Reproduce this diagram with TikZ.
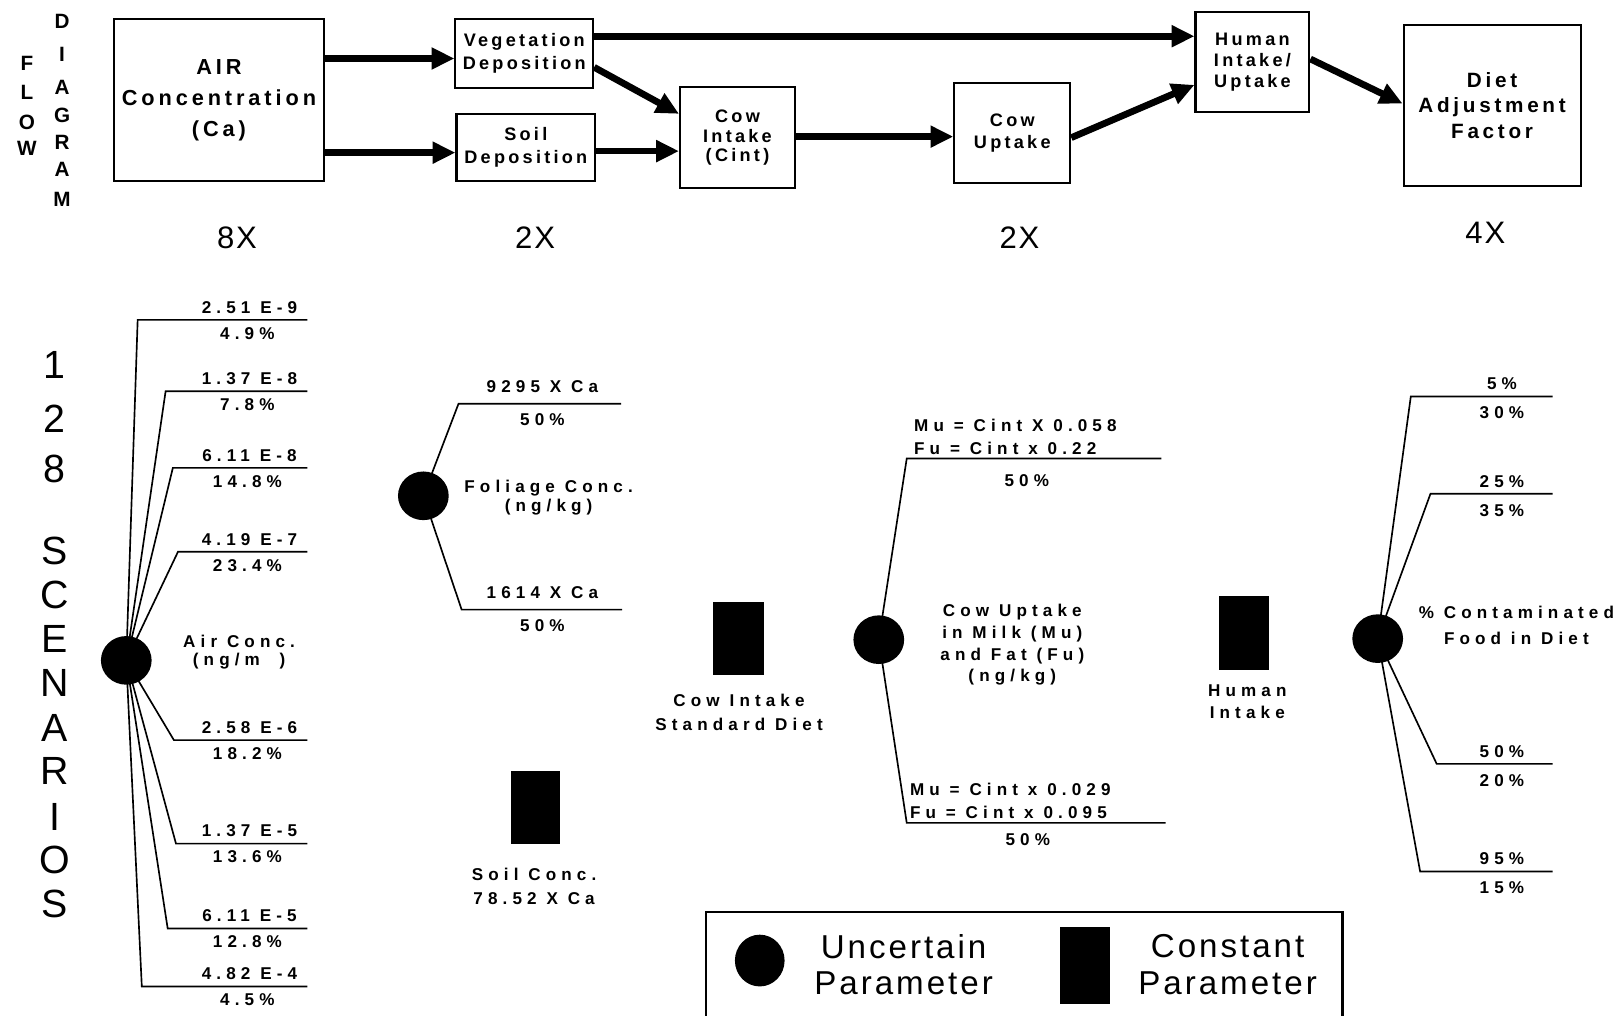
\documentclass[tikz,border=0pt]{standalone}
\usepackage{fontspec}
\setmainfont{Liberation Sans}
\newfontfamily\labfont{Liberation Sans}[LetterSpace=30]
\newfontfamily\boxfont{Liberation Sans}[LetterSpace=18]
\newfontfamily\regfont{Liberation Sans}[LetterSpace=6]
\newfontfamily\legfont{Liberation Sans}[LetterSpace=9]
\usetikzlibrary{arrows.meta,calc,shapes.geometric}
\begin{document}
\begin{tikzpicture}[x=1pt,y=-1pt,
  fbox/.style={draw,line width=2pt,inner sep=0pt,align=center,
    font=\boxfont\bfseries\fontsize{17.5}{21}\selectfont},
  flowarrow/.style={line width=6.5pt,-{Triangle[length=22pt,width=20pt]}},
  lab/.style={font=\labfont\bfseries\fontsize{16.5}{18}\selectfont,inner sep=1pt,align=center},
  unc/.style={ellipse,fill=black,minimum width=49pt,minimum height=47pt,inner sep=0pt},
  con/.style={fill=black,inner sep=0pt},
  br/.style={line width=1.6pt},
  big/.style={font=\regfont\fontsize{30}{34}\selectfont,inner sep=0pt},
  vert/.style={font=\regfont\fontsize{38}{40}\selectfont,inner sep=0pt},
  flowl/.style={font=\bfseries\fontsize{20}{22}\selectfont,inner sep=0pt},
  leg/.style={font=\legfont\fontsize{32}{35}\selectfont,align=center,inner sep=0pt}
]
\useasboundingbox[fill=white] (0,0) rectangle (1568,981);

% ---------- FLOW DIAGRAM title ----------
\foreach \ch/\yy [count=\i] in {F/61,L/89,O/118,W/143}
  \node[flowl] (fl\i) at (26,\yy) {\ch};
\foreach \ch/\yy [count=\i] in {D/21,I/53,A/84,G/111,R/138,A/164,M/193}
  \node[flowl] (dg\i) at (60,\yy) {\ch};

% ---------- flow boxes ----------
\node[fbox,minimum width=203pt,minimum height=157pt,
  font=\boxfont\bfseries\fontsize{21}{30}\selectfont] (air) at (211.5,96.5)
  {AIR\\Concentration\\(Ca)};
\node[fbox,minimum width=133pt,minimum height=67pt,
  font=\boxfont\bfseries\fontsize{17.5}{22}\selectfont] (veg) at (506.5,51.5)
  {Vegetation\\Deposition};
\node[fbox,minimum width=134pt,minimum height=65pt,
  font=\boxfont\bfseries\fontsize{17.5}{22}\selectfont] (soil) at (508,142.5)
  {Soil\\Deposition};
\node[fbox,minimum width=111pt,minimum height=98pt,
  font=\boxfont\bfseries\fontsize{17.5}{19}\selectfont] (cint) at (712.5,133)
  {Cow\\Intake\\(Cint)};
\node[fbox,minimum width=112pt,minimum height=97pt,
  font=\boxfont\bfseries\fontsize{17.5}{22}\selectfont] (cup) at (978,128.5)
  {Cow\\Uptake};
\node[fbox,minimum width=110pt,minimum height=96pt,
  font=\boxfont\bfseries\fontsize{17.5}{20}\selectfont] (hum) at (1210,60)
  {Human\\Intake/\\Uptake};
\node[fbox,minimum width=171pt,minimum height=156pt,
  font=\boxfont\bfseries\fontsize{20}{25}\selectfont] (diet) at (1441.5,102)
  {Diet\\Adjustment\\Factor};

% ---------- flow arrows ----------
\draw[flowarrow] ($(air.east|-veg.west)+(0,5)$) -- ($(veg.west)+(0,5)$);
\draw[flowarrow] ($(air.east|-soil.west)+(0,5)$) -- ($(soil.west)+(0,5)$);
\draw[flowarrow] ($(veg.east)+(0,-16.5)$) -- ($(hum.west|-veg.east)+(0,-16.5)$);
\draw[flowarrow] ($(veg.east)+(0,13.5)$) -- ($(cint.west)+(0,-23)$);
\draw[flowarrow] ($(soil.east)+(0,3.5)$) -- ($(cint.west)+(0,13)$);
\draw[flowarrow] ($(cint.east)+(0,-1)$) -- ($(cint.east-|cup.west)+(0,-1)$);
\draw[flowarrow] ($(cup.east)+(0,4.5)$) -- ($(hum.west)+(0,22)$);
\draw[flowarrow] ($(hum.east)+(0,-3)$) -- ($(diet.west)+(0,-2)$);

% ---------- multipliers ----------
\node[big] (m1) at (229,230) {8X};
\node[big] (m2) at (517,230) {2X};
\node[big] (m3) at (985,230) {2X};
\node[big] (m4) at (1435,225) {4X};

% ---------- 128 SCENARIOS ----------
\foreach \ch/\yy [count=\i] in {1/353,2/405,8/453,S/532,C/575,E/617,N/660,A/703,R/745,I/789,O/831,S/873}
  \node[vert] (sc\i) at (53,\yy) {\ch};

% ---------- Air concentration tree ----------
\node[unc] (airc) at (122,638) {};
\foreach \yy/\ex/\up/\dn [count=\i] in {
   309/133/{2.51 E-9}/{4.9\%},
   378/160/{1.37 E-8}/{7.8\%},
   452/167/{6.11 E-8}/{14.8\%},
   533/172/{4.19 E-7}/{23.4\%},
   715/168/{2.58 E-6}/{18.2\%},
   815/170/{1.37 E-5}/{13.6\%},
   897/162/{6.11 E-5}/{12.8\%},
   953/137/{4.82 E-4}/{4.5\%}}{
  \coordinate (ae\i) at (\ex,\yy);
  \coordinate (af\i) at (297,\yy);
  \draw[br] (airc.center) -- (ae\i) -- (af\i);
  \node[lab,anchor=south] (au\i) at (241,\yy-5) {\up};
  \node[lab,anchor=north] (ad\i) at (239,\yy+6) {\dn};
}
\node[lab,font=\labfont\bfseries\fontsize{16.5}{17}\selectfont] (airt) at (231,630) {Air Conc.\\(ng/m~~)};

% ---------- Foliage tree ----------
\node[unc] (folc) at (409,479) {};
\foreach \yy/\ex/\ux/\up/\dn [count=\i] in {
   390/443/600/{9295 X Ca}/{50\%},
   589/446/601/{1614 X Ca}/{50\%}}{
  \coordinate (fe\i) at (\ex,\yy);
  \coordinate (ff\i) at (\ux,\yy);
  \draw[br] (folc.center) -- (fe\i) -- (ff\i);
  \node[lab,anchor=south] (fu\i) at (524,\yy-9) {\up};
  \node[lab,anchor=north] (fd\i) at (524,\yy+8) {\dn};
}
\node[lab] (folt) at (530,481) {Foliage Conc.\\(ng/kg)};

% ---------- Soil constant ----------
\node[con,minimum width=47pt,minimum height=70pt] (soilc) at (517.5,780) {};
\node[lab,font=\labfont\bfseries\fontsize{16.5}{23}\selectfont] (soilt) at (516,856) {Soil Conc.\\78.52 X Ca};

% ---------- Cow intake constant ----------
\node[con,minimum width=49pt,minimum height=70pt] (cintc) at (713.5,617) {};
\node[lab,font=\labfont\bfseries\fontsize{16.5}{23}\selectfont] (cintt) at (714,688) {Cow Intake\\Standard Diet};

% ---------- Cow uptake tree ----------
\node[unc] (cupc) at (849,618) {};
\coordinate (ce1) at (876,443);
\coordinate (cf1) at (1122,443);
\coordinate (ce2) at (876,795);
\coordinate (cf2) at (1126,795);
\draw[br] (cupc.center) -- (ce1) -- (cf1);
\draw[br] (cupc.center) -- (ce2) -- (cf2);
\node[lab,align=left,anchor=south west,font=\labfont\bfseries\fontsize{16.5}{22}\selectfont] (cu1) at (882,440) {Mu = Cint X 0.058\\Fu = Cint x 0.22};
\node[lab,anchor=north] (cd1) at (992,457) {50\%};
\node[lab,align=left,anchor=south west,font=\labfont\bfseries\fontsize{16.5}{22}\selectfont] (cu2) at (878,792) {Mu = Cint x 0.029\\Fu = Cint x 0.095};
\node[lab,anchor=north] (cd2) at (993,804) {50\%};
\node[lab,font=\labfont\bfseries\fontsize{16.5}{21}\selectfont] (cupt) at (978,623) {Cow Uptake\\in Milk (Mu)\\and Fat (Fu)\\(ng/kg)};

% ---------- Human intake constant ----------
\node[con,minimum width=48pt,minimum height=71pt] (humc) at (1202,611.5) {};
\node[lab,font=\labfont\bfseries\fontsize{16.5}{21}\selectfont] (humt) at (1205,678) {Human\\Intake};

% ---------- Contaminated food tree ----------
\node[unc] (dietc) at (1331,617) {};
\foreach \yy/\ex/\up/\dn [count=\i] in {
   383/1363/{5\%}/{30\%},
   477/1382/{25\%}/{35\%},
   738/1388/{50\%}/{20\%},
   842/1372/{95\%}/{15\%}}{
  \coordinate (de\i) at (\ex,\yy);
  \coordinate (df\i) at (1500,\yy);
  \draw[br] (dietc.center) -- (de\i) -- (df\i);
  \node[lab,anchor=south] (du\i) at (1451,\yy-5) {\up};
  \node[lab,anchor=north] (dd\i) at (1451,\yy+9) {\dn};
}
\node[lab,font=\labfont\bfseries\fontsize{16.5}{25}\selectfont] (dtt) at (1465,604) {\% Contaminated\\Food in Diet};

% ---------- Legend ----------
\node[draw,line width=2pt,minimum width=615pt,minimum height=120pt,anchor=north west,inner sep=0pt] (legend) at (681,880) {};
\node[unc,minimum width=48pt,minimum height=50pt] (legc) at (734,928) {};
\node[leg] (legct) at (873,932) {Uncertain\\Parameter};
\node[con,minimum width=48pt,minimum height=74pt] (legr) at (1048,933) {};
\node[leg] (legrt) at (1186,932) {Constant\\Parameter};
\end{tikzpicture}
\end{document}
